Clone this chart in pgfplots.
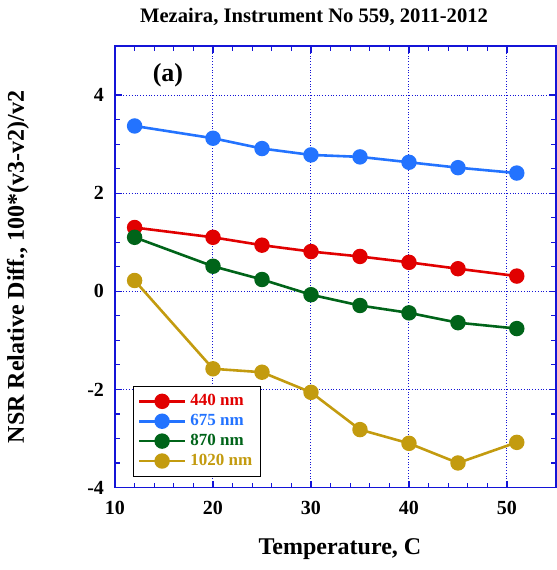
\documentclass[border=0pt]{standalone}
\usepackage{fontspec}
\setmainfont{Liberation Serif}
\usepackage{pgfplots}
\pgfplotsset{compat=1.18}
\definecolor{cred}{RGB}{225,0,0}
\definecolor{cblue}{RGB}{35,115,255}
\definecolor{cgreen}{RGB}{0,100,25}
\definecolor{cgold}{RGB}{195,155,15}
\definecolor{frame}{RGB}{20,20,215}
\begin{document}
\begin{tikzpicture}
\useasboundingbox (0,0) rectangle (278.5pt,285pt);
\begin{axis}[
  at={(57.5pt,41.25pt)}, anchor=south west,
  width=220.5pt, height=220.75pt, scale only axis,
  xmin=10, xmax=55, ymin=-4, ymax=5,
  xtick={10,20,...,50}, ytick={-4,-2,...,4},
  minor x tick num=4, minor y tick num=3,
  tick align=inside, tick pos=both,
  major tick length=3.5pt, minor tick length=2.5pt,
  grid=major,
  major grid style={densely dotted, frame, line width=0.5pt},
  axis line style={frame, line width=0.8pt},
  every tick/.style={frame, line width=0.6pt},
  /pgf/number format/assume math mode=true,
  tick label style={font=\bfseries\fontsize{10}{12}\selectfont, black},
  xticklabel style={yshift=-3.5pt},
  yticklabel style={xshift=-2pt},
  xlabel={Temperature, C},
  ylabel={NSR Relative Diff., 100*(v3-v2)/v2},
  label style={font=\bfseries\fontsize{12}{14}\selectfont},
  xlabel style={at={(axis description cs:0.51,-0.139)}, anchor=center},
  ylabel style={at={(axis description cs:-0.22,0.5)}, anchor=center},
  legend cell align=left,
  legend style={at={(axis description cs:0.0415,0.2306)}, anchor=north west,
    draw=black, line width=0.5pt, fill=white,
    font=\bfseries\fontsize{8.5}{10}\selectfont,
    inner sep=2pt, row sep=-1.2pt},
  legend image code/.code={
    \draw[mark repeat=2,mark phase=2,#1] plot coordinates {(0pt,0pt) (11.5pt,0pt) (23pt,0pt)};},
  every axis plot/.append style={line width=1.3pt, mark=*, mark size=3.2pt},
]
\addplot[cred, mark options={fill=cred}] coordinates {
(12,1.30) (20,1.10) (25,0.94) (30,0.81) (35,0.71) (40,0.59) (45,0.46) (51,0.31)};
\addplot[cblue, mark options={fill=cblue}] coordinates {
(12,3.37) (20,3.12) (25,2.91) (30,2.78) (35,2.74) (40,2.63) (45,2.52) (51,2.41)};
\addplot[cgreen, mark options={fill=cgreen}] coordinates {
(12,1.10) (20,0.51) (25,0.24) (30,-0.07) (35,-0.29) (40,-0.44) (45,-0.64) (51,-0.76)};
\addplot[cgold, mark options={fill=cgold}] coordinates {
(12,0.22) (20,-1.58) (25,-1.65) (30,-2.06) (35,-2.82) (40,-3.10) (45,-3.50) (51,-3.08)};
\legend{\textcolor{cred}{440 nm},\textcolor{cblue}{675 nm},\textcolor{cgreen}{870 nm},\textcolor{cgold}{1020 nm}}
\node[font=\bfseries\fontsize{13}{15}\selectfont] at (axis description cs:0.12,0.934) {(a)};
\end{axis}
\node[font=\bfseries\fontsize{10.3}{12}\selectfont] at (157pt,276.5pt) {Mezaira, Instrument No 559, 2011-2012};
\end{tikzpicture}
\end{document}
